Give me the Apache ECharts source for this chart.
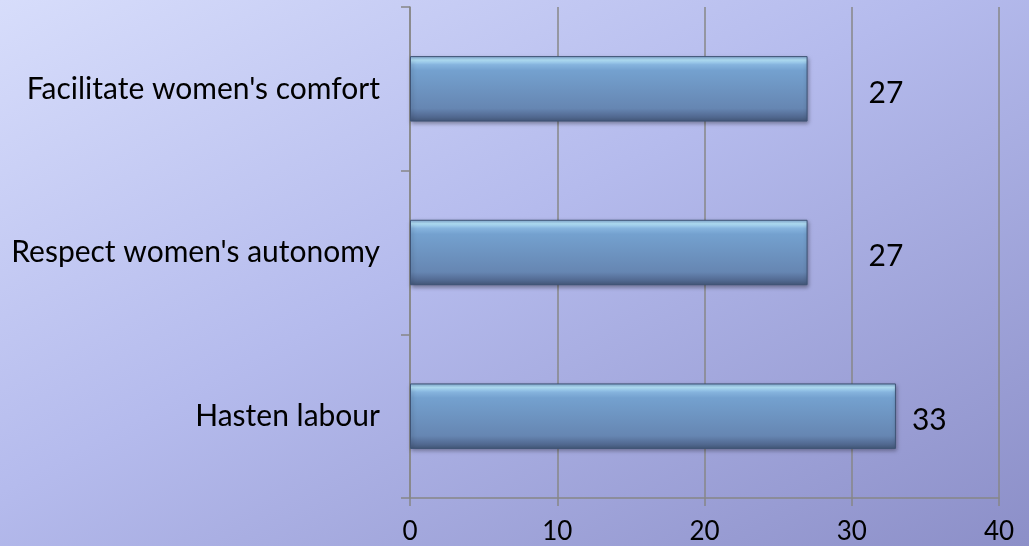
<!DOCTYPE html>
<html>
<head>
<meta charset="utf-8">
<script src="https://cdn.jsdelivr.net/npm/echarts@6/dist/echarts.min.js"></script>
<style>
html,body{margin:0;padding:0;}
#chart{width:1029px;height:546px;background:linear-gradient(to bottom right,#d7ddfb 0%,#b5bbed 45%,#8c8fc8 100%);}
</style>
</head>
<body>
<div id="chart"></div>
<script>
const categories = ["Hasten labour", "Respect women's autonomy", "Facilitate women's comfort"];
const values = [33, 27, 27];
const labelGaps = [16, 61, 61];
const xTicks = [0, 10, 20, 30, 40];

const chart = echarts.init(document.getElementById('chart'), null, {renderer: 'canvas'});
const gray = '#878787';
const option = {
  backgroundColor: 'transparent',
  animation: false,
  grid: {left: 410, right: 30, top: 7, bottom: 48, containLabel: false},
  xAxis: {
    type: 'value', min: xTicks[0], max: xTicks[xTicks.length - 1], interval: 10,
    axisLine: {show: true, lineStyle: {color: gray, width: 1.5}},
    axisTick: {show: true, length: 8, lineStyle: {color: gray, width: 1.5}},
    splitLine: {show: true, lineStyle: {color: gray, width: 1.5}},
    axisLabel: {color: '#000', fontFamily: 'Lato', fontSize: 26, margin: 21}
  },
  yAxis: {
    type: 'category', data: categories,
    axisLine: {show: true, lineStyle: {color: gray, width: 1.5}},
    axisTick: {show: true, length: 9, lineStyle: {color: gray, width: 1.5}},
    splitLine: {show: false},
    axisLabel: {color: '#000', fontFamily: 'Lato', fontSize: 30, margin: 30}
  },
  series: [{
    type: 'bar',
    barCategoryGap: '60%',
    data: values.map((v, i) => ({
      value: v,
      label: {show: true, position: 'right', distance: labelGaps[i], offset: [0, 4],
               color: '#000', fontFamily: 'Lato', fontSize: 30}
    })),
    itemStyle: {
      color: new echarts.graphic.LinearGradient(0, 0, 0, 1, [
        {offset: 0, color: '#7ea4cf'},
        {offset: 0.06, color: '#b5e4fb'},
        {offset: 0.13, color: '#86b4de'},
        {offset: 0.22, color: '#74a1cf'},
        {offset: 0.8, color: '#6686b2'},
        {offset: 0.9, color: '#566f98'},
        {offset: 1, color: '#44587a'}
      ]),
      borderColor: '#3f5475',
      borderWidth: 1,
      shadowColor: 'rgba(0,0,0,0.35)',
      shadowBlur: 4,
      shadowOffsetX: 1,
      shadowOffsetY: 2
    }
  }]
};
chart.setOption(option);
</script>
</body>
</html>
